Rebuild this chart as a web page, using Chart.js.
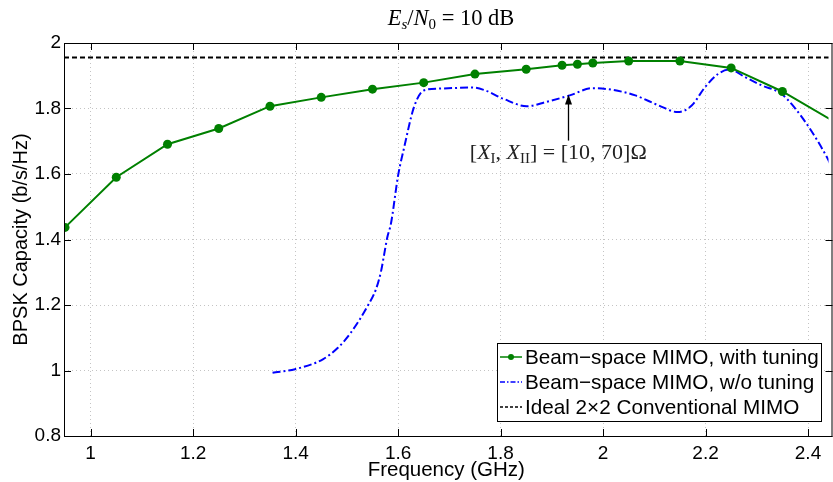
<!DOCTYPE html>
<html>
<head>
<meta charset="utf-8">
<script src="https://cdn.jsdelivr.net/npm/chart.js@4/dist/chart.umd.min.js"></script>
<style>
  html, body { margin: 0; padding: 0; background: #fff; }
  #chart { display: block; }
</style>
</head>
<body>
<canvas id="chart" width="833" height="482"></canvas>
<script>
// series
const tunedFreq = [0.95, 1.05, 1.15, 1.25, 1.35, 1.45, 1.55, 1.65, 1.75, 1.85, 1.92, 1.95, 1.98, 2.05, 2.15, 2.25, 2.35, 2.45];
const tunedCap  = [1.437, 1.590, 1.691, 1.739, 1.807, 1.834, 1.859, 1.879, 1.905, 1.920, 1.932, 1.935, 1.939, 1.945, 1.945, 1.924, 1.852, 1.761];

const untunedFreq = [1.355, 1.399, 1.454, 1.483, 1.508, 1.541, 1.557, 1.567, 1.573, 1.579, 1.586, 1.600, 1.612, 1.631, 1.650, 1.683, 1.745, 1.767, 1.805, 1.851, 1.889, 1.935, 1.979, 2.018, 2.063, 2.109, 2.146, 2.173, 2.199, 2.225, 2.247, 2.277, 2.309, 2.348, 2.373, 2.406, 2.437, 2.45];
const untunedCap  = [0.993, 1.004, 1.035, 1.070, 1.116, 1.198, 1.249, 1.305, 1.356, 1.407, 1.448, 1.595, 1.682, 1.804, 1.855, 1.861, 1.864, 1.857, 1.830, 1.807, 1.820, 1.840, 1.862, 1.857, 1.840, 1.809, 1.789, 1.809, 1.865, 1.906, 1.919, 1.896, 1.871, 1.845, 1.804, 1.733, 1.651, 1.610];

const idealFreq = [0.948, 2.45];
const idealCap  = [1.956, 1.956];

const seriesNames = ['Beam\u2212space MIMO, with tuning', 'Beam\u2212space MIMO, w/o tuning', 'Ideal 2\u00d72 Conventional MIMO'];

const xTicks = [1, 1.2, 1.4, 1.6, 1.8, 2, 2.2, 2.4];
const yTicks = [0.8, 1, 1.2, 1.4, 1.6, 1.8, 2];

// annotation anchor points (data coordinates)
const arrowFrom = { x: 1.932, y: 1.702 };
const arrowTo   = { x: 1.932, y: 1.843 };
const noteAt    = { x: 1.740, y: 1.647 };

const GREEN = 'rgb(0,128,0)';
const BLUE = 'rgb(0,0,255)';
const SANS = '"Liberation Sans", Arial, Helvetica, sans-serif';
const SERIF = '"Liberation Serif", "Times New Roman", serif';

const zip = (xs, ys) => xs.map((x, i) => ({ x, y: ys[i] }));
const fmt = v => String(+(+v).toFixed(2));

// draw a run of [text, font, dy] pieces starting at x
function drawPieces(ctx, pieces, x, y, align) {
    let total = 0;
    pieces.forEach(p => { ctx.font = p[1]; total += ctx.measureText(p[0]).width; });
    let cx = align === 'center' ? x - total / 2 : x;
    ctx.textBaseline = 'alphabetic';
    ctx.textAlign = 'left';
    pieces.forEach(p => {
        ctx.font = p[1];
        ctx.fillText(p[0], cx, y + (p[2] || 0));
        cx += ctx.measureText(p[0]).width;
    });
}

const framePlugin = {
    id: 'frame',
    afterDraw(chart) {
        const { ctx, chartArea: a, scales: { x, y } } = chart;
        ctx.save();
        ctx.strokeStyle = '#000';
        ctx.lineWidth = 1;
        ctx.strokeRect(a.left + 0.5, a.top + 0.5, a.right - a.left + 3, a.bottom - a.top);
        // inward tick marks
        ctx.beginPath();
        xTicks.forEach(v => {
            const px = Math.round(x.getPixelForValue(v)) + 0.5;
            ctx.moveTo(px, a.bottom); ctx.lineTo(px, a.bottom - 7);
            ctx.moveTo(px, a.top); ctx.lineTo(px, a.top + 7);
        });
        yTicks.forEach(v => {
            const py = Math.round(y.getPixelForValue(v)) + 0.5;
            ctx.moveTo(a.left, py); ctx.lineTo(a.left + 7, py);
            ctx.moveTo(a.right + 4, py); ctx.lineTo(a.right - 3, py);
        });
        ctx.stroke();

        // title
        ctx.fillStyle = '#000';
        const it = 'italic 22.5px ' + SERIF, rm = '22.5px ' + SERIF, sub = '15px ' + SERIF, isub = 'italic 15px ' + SERIF;
        drawPieces(ctx, [['E', it], ['s', isub, 4], ['/', rm], ['N', it], ['0', sub, 4], [' = 10 dB', rm]],
            451, 25, 'center');

        // annotation arrow + label
        const ax = Math.round(x.getPixelForValue(arrowFrom.x)) + 0.5;
        const ay0 = y.getPixelForValue(arrowFrom.y);
        const ay1 = y.getPixelForValue(arrowTo.y);
        ctx.lineWidth = 1.3;
        ctx.beginPath();
        ctx.moveTo(ax, ay0); ctx.lineTo(ax, ay1 + 6);
        ctx.stroke();
        ctx.beginPath();
        ctx.moveTo(ax, ay1); ctx.lineTo(ax - 3.5, ay1 + 10); ctx.lineTo(ax + 3.5, ay1 + 10); ctx.closePath();
        ctx.fill();
        const rm2 = '22px ' + SERIF, it2 = 'italic 22px ' + SERIF;
        ctx.fillStyle = '#222';
        drawPieces(ctx, [['[', rm2], ['X', it2], ['I', sub, 4], [', ', rm2], ['X', it2], ['II', sub, 4],
            ['] = [10, 70]\u03a9', rm2]], x.getPixelForValue(noteAt.x), y.getPixelForValue(noteAt.y), 'left');

        // legend box
        const lx = 497, ly = 343, lw = 324, lh = 78;
        ctx.fillStyle = '#fff';
        ctx.fillRect(lx, ly, lw, lh);
        ctx.strokeStyle = '#000';
        ctx.lineWidth = 1;
        ctx.strokeRect(lx + 0.5, ly + 0.5, lw, lh);
        chart.data.datasets.forEach((ds, i) => {
            const ry = ly + 14 + i * 25;
            ctx.save();
            ctx.strokeStyle = ds.borderColor;
            ctx.lineWidth = 1.5;
            ctx.setLineDash(i === 1 ? [5, 2, 1.5, 2] : i === 2 ? [3, 2] : []);
            ctx.beginPath();
            ctx.moveTo(lx + 3, ry); ctx.lineTo(lx + 25, ry);
            ctx.stroke();
            ctx.restore();
            if (ds.pointRadius > 0) {
                ctx.fillStyle = ds.borderColor;
                ctx.beginPath(); ctx.arc(lx + 14, ry, 3, 0, Math.PI * 2); ctx.fill();
            }
            ctx.fillStyle = '#000';
            ctx.font = '20.7px ' + SANS;
            ctx.textBaseline = 'middle';
            ctx.fillText(ds.label, lx + 28, ry + 1);
        });
        ctx.restore();
    }
};

new Chart(document.getElementById('chart').getContext('2d'), {
    type: 'line',
    data: {
        datasets: [{
            label: seriesNames[0],
            data: zip(tunedFreq, tunedCap),
            borderColor: GREEN,
            backgroundColor: GREEN,
            borderWidth: 2,
            pointRadius: 4.5,
            pointBorderWidth: 0,
            pointBackgroundColor: GREEN,
            tension: 0
        }, {
            label: seriesNames[1],
            data: zip(untunedFreq, untunedCap),
            borderColor: BLUE,
            borderWidth: 2,
            borderDash: [8, 3, 2, 3],
            pointRadius: 0,
            cubicInterpolationMode: 'monotone'
        }, {
            label: seriesNames[2],
            data: zip(idealFreq, idealCap),
            borderColor: '#000',
            borderWidth: 2,
            borderDash: [5, 3],
            pointRadius: 0
        }]
    },
    options: {
        responsive: false,
        animation: false,
        devicePixelRatio: 1,
        layout: { padding: { top: 43, right: -3, left: 0, bottom: 0 } },
        plugins: { legend: { display: false }, tooltip: { enabled: false }, title: { display: false } },
        scales: {
            x: {
                type: 'linear',
                min: 0.948,
                max: 2.44,
                afterBuildTicks: s => { s.ticks = xTicks.map(v => ({ value: v })); },
                afterFit: s => { s.height = 46; },
                grid: { color: '#c4c4c4', lineWidth: 1, drawTicks: false },
                border: { display: false, dash: [1, 3] },
                ticks: { color: '#000', font: { family: SANS, size: 19 }, padding: 6, maxRotation: 0, autoSkip: false, callback: fmt },
                title: { display: true, text: 'Frequency (GHz)', color: '#000', font: { family: SANS, size: 20.5 }, padding: { top: 0, bottom: -1 } }
            },
            y: {
                type: 'linear',
                min: 0.8,
                max: 2,
                afterBuildTicks: s => { s.ticks = yTicks.map(v => ({ value: v })); },
                afterFit: s => { s.width = 64; },
                grid: { color: '#c4c4c4', lineWidth: 1, drawTicks: false },
                border: { display: false, dash: [1, 3] },
                ticks: { color: '#000', font: { family: SANS, size: 19 }, padding: 3, autoSkip: false, callback: fmt },
                title: { display: true, text: 'BPSK Capacity (b/s/Hz)', color: '#000', font: { family: SANS, size: 20 }, padding: { top: 9, bottom: 0 } }
            }
        }
    },
    plugins: [framePlugin]
});
</script>
</body>
</html>
